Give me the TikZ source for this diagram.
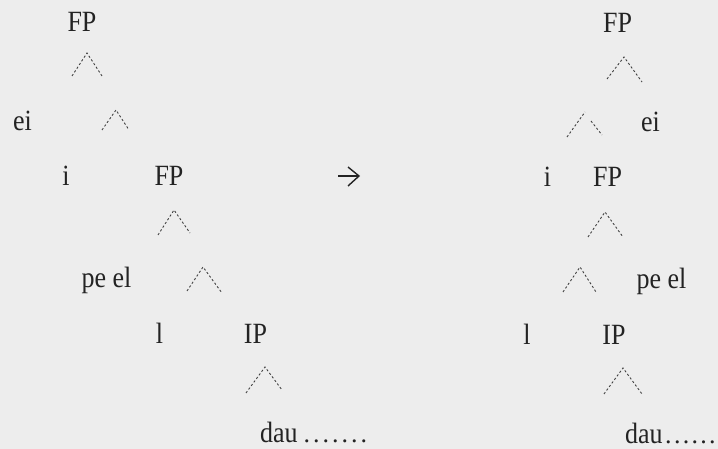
\documentclass[tikz,border=0pt]{standalone}
\usepackage{fontspec}
\setmainfont{Liberation Serif}
\usepackage{graphicx}
\definecolor{bg}{RGB}{237,237,237}
\definecolor{ink}{RGB}{35,35,35}
\definecolor{dashink}{RGB}{65,65,65}
\newcommand{\tallt}[1]{\scalebox{1}[1.13]{#1}}
\newcommand{\dotrun}{\kern6pt.\kern3pt.\kern3pt.\kern3pt.\kern3pt.\kern3pt.\kern3pt.}
\newcommand{\dotrunR}{\kern2.5pt.\kern2.3pt.\kern2.3pt.\kern2.3pt.\kern2.3pt.\kern2.3pt\makebox[3pt][l]{.}}
\tikzset{
  lbl/.style={anchor=base, inner sep=0pt, text=ink, font=\fontsize{26}{28}\selectfont},
  lblw/.style={lbl, anchor=base west},
  caret/.style={draw=dashink, line width=0.9pt, dash pattern=on 2.2pt off 2.2pt},
  arrowline/.style={draw=ink, line width=1.4pt}
}
\begin{document}
\begin{tikzpicture}[x=1pt,y=-1pt]
\fill[bg] (0,0) rectangle (718,449);
\useasboundingbox (0,0) rectangle (718,449);

% ---------- left tree ----------
\node[lbl] (LFP1) at (82,32) {\tallt{FP}};
\node[lbl] (Lei) at (22.5,131) {\tallt{ei}};
\node[lbl] (Li) at (66,186) {\tallt{i}};
\node[lbl] (LFP2) at (169,186) {\tallt{FP}};
\node[lbl] (Lpeel) at (106.5,288) {\tallt{pe el}};
\node[lbl] (Ll) at (159.5,343) {\tallt{l}};
\node[lbl] (LIP) at (255.5,343) {\tallt{IP}};
\node[lblw] (Ldau) at (260,442) {\tallt{dau}\dotrun};

\coordinate (cAt) at (87,53);  \coordinate (cAl) at (72,76);  \coordinate (cAr) at (102,76);
\coordinate (cBt) at (116,110); \coordinate (cBl) at (102,130); \coordinate (cBr) at (129,130);
\coordinate (cCt) at (174,210); \coordinate (cCl) at (158,235); \coordinate (cCr) at (190,233);
\coordinate (cDt) at (203,267); \coordinate (cDl) at (187,291); \coordinate (cDr) at (222,293);
\coordinate (cEt) at (265,367); \coordinate (cEl) at (246,393); \coordinate (cEr) at (282,390);
\draw[caret] (cAl) -- (cAt) -- (cAr);
\draw[caret] (cBl) -- (cBt) -- (cBr);
\draw[caret] (cCl) -- (cCt) -- (cCr);
\draw[caret] (cDl) -- (cDt) -- (cDr);
\draw[caret] (cEl) -- (cEt) -- (cEr);

% ---------- arrow ----------
\coordinate (arS) at (338,176);
\coordinate (arT) at (359,176);
\coordinate (arU) at (348,167);
\coordinate (arD) at (348,186);
\draw[arrowline] (arS) -- (arT);
\draw[arrowline, line join=miter] (arU) -- (arT) -- (arD);

% ---------- right tree ----------
\node[lbl] (RFP1) at (617.5,33) {\tallt{FP}};
\node[lbl] (Rei) at (650.5,132) {\tallt{ei}};
\node[lbl] (Ri) at (547.5,187) {\tallt{i}};
\node[lbl] (RFP2) at (607.5,187) {\tallt{FP}};
\node[lbl] (Rpeel) at (661.5,289) {\tallt{pe el}};
\node[lbl] (Rl) at (527,344) {\tallt{l}};
\node[lbl] (RIP) at (614,344) {\tallt{IP}};
\node[lblw] (Rdau) at (625,443) {\tallt{dau}\dotrunR};

\coordinate (cFt) at (624,57);  \coordinate (cFl) at (607,79);  \coordinate (cFr) at (642,82);
\coordinate (cGt) at (585,112); \coordinate (cGl) at (567,137);
\coordinate (cGs) at (591,121); \coordinate (cGr) at (602,135);
\coordinate (cHt) at (605,212); \coordinate (cHl) at (588,237); \coordinate (cHr) at (623,237);
\coordinate (cIt) at (580,267); \coordinate (cIl) at (563,292); \coordinate (cIr) at (596,292);
\coordinate (cJt) at (623,368); \coordinate (cJl) at (604,394); \coordinate (cJr) at (642,394);
\draw[caret] (cFl) -- (cFt) -- (cFr);
\draw[caret] (cGl) -- (cGt);
\draw[caret] (cGs) -- (cGr);
\draw[caret] (cHl) -- (cHt) -- (cHr);
\draw[caret] (cIl) -- (cIt) -- (cIr);
\draw[caret] (cJl) -- (cJt) -- (cJr);
\end{tikzpicture}
\end{document}
